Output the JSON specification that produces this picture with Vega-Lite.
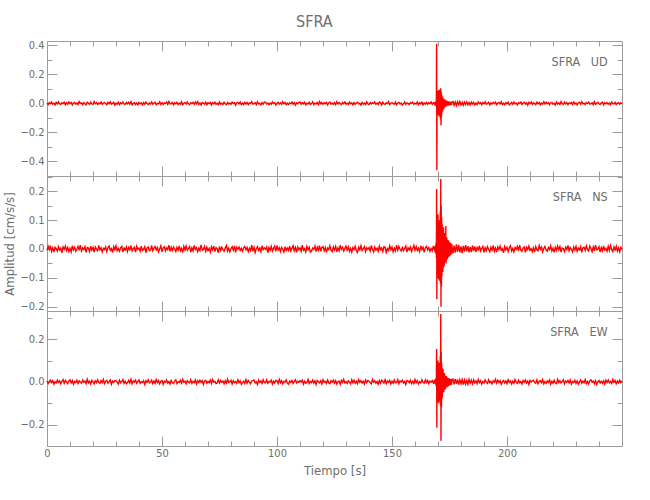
{
"$schema":"https://vega.github.io/schema/vega-lite/v6.json",
"padding":{"left":3,"top":14,"right":5,"bottom":5},
"title":{"text":"SFRA","fontSize":16,"fontWeight":"normal","font":"Liberation Sans Narrow, DejaVu Sans Condensed, Liberation Sans, sans-serif","color":"#6e6e6e","anchor":"middle","offset":9},
"data":{"values":[
{"t":0,"u":0.003,"n":-0.005,"e":0.004},{"t":0.5,"u":-0.008,"n":0.009,"e":-0.007},{"t":1,"u":0.006,"n":-0.002,"e":0.002},{"t":1.5,"u":-0.002,"n":0.012,"e":0.009},{"t":2,"u":0.009,"n":-0.008,"e":-0.003},{"t":2.5,"u":-0.005,"n":0.004,"e":0.006},{"t":3,"u":0.001,"n":-0.011,"e":-0.01},{"t":3.5,"u":-0.01,"n":0.006,"e":0.001},{"t":4,"u":0.007,"n":0.001,"e":-0.005},{"t":4.5,"u":-0.004,"n":-0.007,"e":0.008},
{"t":5,"u":0.011,"n":0.008,"e":-0.002},{"t":5.5,"u":-0.003,"n":-0.004,"e":0.005},{"t":6,"u":-0.007,"n":0.003,"e":-0.009},{"t":6.5,"u":0.005,"n":-0.013,"e":0.003},{"t":7,"u":-0.001,"n":0.007,"e":0.011},{"t":7.5,"u":0.008,"n":-0.001,"e":-0.006},{"t":8,"u":-0.009,"n":0.01,"e":0.007},{"t":8.5,"u":0.004,"n":-0.006,"e":-0.001},{"t":9,"u":-0.006,"n":0.005,"e":-0.008},{"t":9.5,"u":0.01,"n":-0.009,"e":0.004},
{"t":10,"u":-0.002,"n":0.002,"e":0.01},{"t":10.5,"u":0.006,"n":-0.01,"e":-0.004},{"t":11,"u":-0.011,"n":0.011,"e":0.006},{"t":11.5,"u":0.003,"n":-0.003,"e":-0.011},{"t":12,"u":0.007,"n":0.006,"e":0.002},{"t":12.5,"u":-0.005,"n":-0.008,"e":-0.003},{"t":13,"u":0.002,"n":-0.001,"e":0.008},{"t":13.5,"u":-0.008,"n":0.009,"e":-0.007},{"t":14,"u":0.012,"n":-0.005,"e":0.005},{"t":14.5,"u":-0.001,"n":0.013,"e":-0.001},
{"t":15,"u":0.004,"n":-0.007,"e":-0.006},{"t":15.5,"u":-0.009,"n":0.004,"e":0.009},{"t":16,"u":0.005,"n":-0.002,"e":-0.002},{"t":16.5,"u":-0.003,"n":0.008,"e":0.004},{"t":17,"u":-0.01,"n":-0.012,"e":-0.008},{"t":17.5,"u":0.008,"n":0.005,"e":0.012},{"t":18,"u":0.001,"n":0.003,"e":-0.005},{"t":18.5,"u":-0.006,"n":-0.009,"e":0.003},{"t":19,"u":0.009,"n":0.01,"e":-0.01},{"t":19.5,"u":-0.004,"n":-0.004,"e":0.007},
{"t":20,"u":-0.007,"n":0.006,"e":0.001},{"t":20.5,"u":0.013,"n":-0.011,"e":-0.009},{"t":21,"u":-0.002,"n":0.007,"e":0.005},{"t":21.5,"u":0.005,"n":-0.001,"e":-0.004},{"t":22,"u":-0.008,"n":-0.006,"e":0.01},{"t":22.5,"u":0.003,"n":0.012,"e":-0.002},{"t":23,"u":-0.004,"n":-0.003,"e":-0.007},{"t":23.5,"u":0.01,"n":0.004,"e":0.006},{"t":24,"u":-0.006,"n":-0.01,"e":-0.003},{"t":24.5,"u":0.002,"n":0.002,"e":0.011},
{"t":25,"u":0.006,"n":-0.002,"e":-0.008},{"t":25.5,"u":-0.001,"n":0.007,"e":0.003},{"t":26,"u":-0.009,"n":-0.009,"e":0.007},{"t":26.5,"u":0.007,"n":0.005,"e":-0.006},{"t":27,"u":-0.003,"n":0.01,"e":0.001},{"t":27.5,"u":0.011,"n":-0.005,"e":0.009},{"t":28,"u":-0.005,"n":0.001,"e":-0.011},{"t":28.5,"u":0,"n":-0.012,"e":0.004},{"t":29,"u":0.008,"n":0.008,"e":-0.002},{"t":29.5,"u":-0.012,"n":-0.003,"e":0.006},
{"t":30,"u":0.002,"n":0.011,"e":0.005},{"t":30.5,"u":-0.006,"n":-0.006,"e":-0.001},{"t":31,"u":0.009,"n":0.002,"e":-0.01},{"t":31.5,"u":-0.008,"n":-0.008,"e":0.008},{"t":32,"u":0.004,"n":0.004,"e":-0.004},{"t":32.5,"u":-0.002,"n":0.009,"e":0.002},{"t":33,"u":0.01,"n":-0.01,"e":0.011},{"t":33.5,"u":-0.004,"n":0.003,"e":-0.006},{"t":34,"u":-0.007,"n":-0.004,"e":0.003},{"t":34.5,"u":0.006,"n":0.007,"e":-0.009},
{"t":35,"u":-0.003,"n":-0.009,"e":-0.003},{"t":35.5,"u":0.008,"n":0.005,"e":0.007},{"t":36,"u":-0.005,"n":-0.003,"e":-0.005},{"t":36.5,"u":0.012,"n":0.012,"e":0.012},{"t":37,"u":-0.009,"n":-0.007,"e":-0.009},{"t":37.5,"u":0.001,"n":0.001,"e":0.004},{"t":38,"u":0.005,"n":0.006,"e":-0.001},{"t":38.5,"u":-0.007,"n":-0.011,"e":0.008},{"t":39,"u":0.003,"n":0.009,"e":-0.007},{"t":39.5,"u":-0.01,"n":-0.002,"e":0.002},
{"t":40,"u":0.007,"n":0.003,"e":0.009},{"t":40.5,"u":-0.002,"n":-0.008,"e":-0.006},{"t":41,"u":0.004,"n":0.01,"e":0.001},{"t":41.5,"u":-0.011,"n":-0.005,"e":-0.003},{"t":42,"u":0.006,"n":-0.001,"e":0.006},{"t":42.5,"u":-0.005,"n":0.008,"e":-0.012},{"t":43,"u":0.009,"n":-0.013,"e":0.005},{"t":43.5,"u":-0.001,"n":0.004,"e":-0.002},{"t":44,"u":-0.008,"n":0.007,"e":0.01},{"t":44.5,"u":0.003,"n":-0.006,"e":-0.005},
{"t":45,"u":-0.004,"n":-0.004,"e":-0.001},{"t":45.5,"u":0.01,"n":0.012,"e":0.008},{"t":46,"u":-0.006,"n":-0.006,"e":-0.008},{"t":46.5,"u":0.002,"n":0.002,"e":0.004},{"t":47,"u":0.008,"n":0.009,"e":-0.006},{"t":47.5,"u":-0.009,"n":-0.003,"e":0.011},{"t":48,"u":0.001,"n":0.005,"e":-0.003},{"t":48.5,"u":-0.003,"n":-0.01,"e":0.007},{"t":49,"u":0.011,"n":0.001,"e":-0.009},{"t":49.5,"u":-0.007,"n":0.011,"e":0.003},
{"t":50,"u":0.005,"n":-0.01,"e":0.006},{"t":50.5,"u":-0.008,"n":0.003,"e":-0.011},{"t":51,"u":0.003,"n":0.008,"e":0.003},{"t":51.5,"u":-0.001,"n":-0.007,"e":-0.002},{"t":52,"u":0.009,"n":0.004,"e":0.009},{"t":52.5,"u":-0.006,"n":-0.002,"e":-0.005},{"t":53,"u":0.013,"n":0.013,"e":0.002},{"t":53.5,"u":-0.004,"n":-0.008,"e":-0.01},{"t":54,"u":-0.002,"n":0.006,"e":0.007},{"t":54.5,"u":0.007,"n":-0.005,"e":-0.004},
{"t":55,"u":-0.009,"n":0.007,"e":-0.007},{"t":55.5,"u":0.004,"n":-0.001,"e":0.004},{"t":56,"u":-0.003,"n":-0.009,"e":0.01},{"t":56.5,"u":0.008,"n":0.006,"e":-0.008},{"t":57,"u":-0.007,"n":-0.004,"e":0.001},{"t":57.5,"u":0.002,"n":0.011,"e":-0.003},{"t":58,"u":-0.005,"n":-0.006,"e":0.008},{"t":58.5,"u":0.011,"n":0.002,"e":-0.006},{"t":59,"u":-0.01,"n":-0.012,"e":0.012},{"t":59.5,"u":0.001,"n":0.009,"e":-0.002},
{"t":60,"u":0.006,"n":-0.003,"e":0.003},{"t":60.5,"u":-0.004,"n":0.01,"e":-0.009},{"t":61,"u":0.009,"n":-0.005,"e":0.006},{"t":61.5,"u":-0.002,"n":0.001,"e":-0.001},{"t":62,"u":-0.008,"n":0.008,"e":-0.005},{"t":62.5,"u":0.005,"n":-0.011,"e":0.01},{"t":63,"u":-0.001,"n":0.004,"e":-0.007},{"t":63.5,"u":0.007,"n":-0.007,"e":0.002},{"t":64,"u":-0.006,"n":0.012,"e":-0.004},{"t":64.5,"u":0.01,"n":-0.001,"e":0.009},
{"t":65,"u":-0.003,"n":0.005,"e":-0.01},{"t":65.5,"u":0.012,"n":-0.009,"e":0.005},{"t":66,"u":-0.007,"n":0.003,"e":-0.003},{"t":66.5,"u":0.003,"n":-0.006,"e":0.008},{"t":67,"u":-0.011,"n":0.014,"e":-0.002},{"t":67.5,"u":0.006,"n":-0.004,"e":0.006},{"t":68,"u":0.002,"n":-0.002,"e":-0.012},{"t":68.5,"u":-0.005,"n":0.009,"e":0.004},{"t":69,"u":0.008,"n":-0.008,"e":0.007},{"t":69.5,"u":-0.009,"n":0.006,"e":-0.006},
{"t":70,"u":0.004,"n":-0.006,"e":0.002},{"t":70.5,"u":-0.001,"n":0.002,"e":-0.004},{"t":71,"u":0.007,"n":-0.011,"e":0.009},{"t":71.5,"u":-0.01,"n":0.007,"e":-0.007},{"t":72,"u":0.005,"n":-0.003,"e":0.011},{"t":72.5,"u":-0.003,"n":0.01,"e":-0.001},{"t":73,"u":0.009,"n":-0.009,"e":0.003},{"t":73.5,"u":-0.006,"n":0.005,"e":-0.008},{"t":74,"u":0.001,"n":0.001,"e":-0.005},{"t":74.5,"u":-0.008,"n":-0.013,"e":0.01},
{"t":75,"u":0.011,"n":0.009,"e":-0.005},{"t":75.5,"u":-0.005,"n":-0.005,"e":0.007},{"t":76,"u":0.002,"n":0.006,"e":-0.002},{"t":76.5,"u":-0.007,"n":-0.002,"e":0.004},{"t":77,"u":0.008,"n":-0.008,"e":-0.009},{"t":77.5,"u":-0.002,"n":0.004,"e":0.005},{"t":78,"u":-0.009,"n":0.012,"e":-0.006},{"t":78.5,"u":0.006,"n":-0.007,"e":0.012},{"t":79,"u":-0.004,"n":0.003,"e":-0.003},{"t":79.5,"u":0.003,"n":-0.01,"e":0.001},
{"t":80,"u":-0.006,"n":0.001,"e":0.008},{"t":80.5,"u":0.009,"n":0.008,"e":-0.01},{"t":81,"u":-0.001,"n":-0.004,"e":0.006},{"t":81.5,"u":0.005,"n":0.011,"e":-0.003},{"t":82,"u":-0.012,"n":-0.012,"e":0.002},{"t":82.5,"u":0.004,"n":0.006,"e":-0.007},{"t":83,"u":0.007,"n":-0.001,"e":0.01},{"t":83.5,"u":-0.003,"n":0.007,"e":-0.004},{"t":84,"u":0.01,"n":-0.005,"e":0.005},{"t":84.5,"u":-0.008,"n":0.002,"e":-0.011},
{"t":85,"u":0.002,"n":-0.008,"e":-0.002},{"t":85.5,"u":-0.007,"n":0.004,"e":0.003},{"t":86,"u":0.008,"n":0.009,"e":-0.008},{"t":86.5,"u":-0.004,"n":-0.003,"e":0.011},{"t":87,"u":0.006,"n":0.005,"e":-0.006},{"t":87.5,"u":-0.009,"n":-0.01,"e":0.007},{"t":88,"u":0.003,"n":0.002,"e":-0.001},{"t":88.5,"u":-0.001,"n":-0.006,"e":-0.009},{"t":89,"u":0.012,"n":0.013,"e":0.004},{"t":89.5,"u":-0.005,"n":-0.007,"e":0.006},
{"t":90,"u":-0.002,"n":0.006,"e":0.009},{"t":90.5,"u":0.006,"n":-0.012,"e":-0.005},{"t":91,"u":-0.008,"n":0.001,"e":0.001},{"t":91.5,"u":0.011,"n":0.008,"e":-0.012},{"t":92,"u":-0.003,"n":-0.005,"e":0.008},{"t":92.5,"u":0.001,"n":0.003,"e":-0.002},{"t":93,"u":-0.01,"n":-0.009,"e":0.005},{"t":93.5,"u":0.005,"n":0.011,"e":-0.007},{"t":94,"u":-0.006,"n":-0.002,"e":0.01},{"t":94.5,"u":0.009,"n":0.004,"e":-0.003},
{"t":95,"u":0.007,"n":-0.001,"e":-0.004},{"t":95.5,"u":-0.004,"n":0.007,"e":0.01},{"t":96,"u":0.003,"n":-0.013,"e":-0.006},{"t":96.5,"u":-0.009,"n":0.005,"e":0.002},{"t":97,"u":0.002,"n":-0.004,"e":-0.001},{"t":97.5,"u":-0.006,"n":0.009,"e":0.008},{"t":98,"u":0.01,"n":-0.007,"e":-0.01},{"t":98.5,"u":-0.002,"n":0.002,"e":0.003},{"t":99,"u":0.005,"n":0.01,"e":-0.005},{"t":99.5,"u":-0.011,"n":-0.008,"e":0.007},
{"t":100,"u":0.001,"n":0.012,"e":0.005},{"t":100.5,"u":0.008,"n":-0.003,"e":-0.008},{"t":101,"u":-0.005,"n":0.004,"e":0.012},{"t":101.5,"u":0.004,"n":-0.009,"e":-0.004},{"t":102,"u":-0.007,"n":0.006,"e":0.006},{"t":102.5,"u":0.012,"n":-0.001,"e":-0.009},{"t":103,"u":-0.003,"n":-0.011,"e":0.002},{"t":103.5,"u":0.006,"n":0.008,"e":-0.001},{"t":104,"u":-0.009,"n":-0.005,"e":0.009},{"t":104.5,"u":0.002,"n":0.003,"e":-0.006},
{"t":105,"u":-0.008,"n":-0.005,"e":-0.011},{"t":105.5,"u":0.003,"n":0.01,"e":0.004},{"t":106,"u":-0.001,"n":-0.007,"e":-0.003},{"t":106.5,"u":0.009,"n":0.002,"e":0.007},{"t":107,"u":-0.005,"n":0.011,"e":-0.007},{"t":107.5,"u":0.007,"n":-0.006,"e":0.001},{"t":108,"u":-0.012,"n":0.005,"e":0.01},{"t":108.5,"u":0.004,"n":-0.012,"e":-0.005},{"t":109,"u":-0.002,"n":0.007,"e":0.003},{"t":109.5,"u":0.006,"n":-0.002,"e":-0.002},
{"t":110,"u":0.01,"n":0.004,"e":0.006},{"t":110.5,"u":-0.006,"n":-0.008,"e":-0.001},{"t":111,"u":0.005,"n":0.013,"e":0.008},{"t":111.5,"u":-0.003,"n":-0.004,"e":-0.01},{"t":112,"u":0.008,"n":0.001,"e":0.004},{"t":112.5,"u":-0.01,"n":-0.01,"e":-0.006},{"t":113,"u":0.001,"n":0.009,"e":-0.003},{"t":113.5,"u":-0.004,"n":-0.003,"e":0.011},{"t":114,"u":0.007,"n":0.006,"e":-0.008},{"t":114.5,"u":-0.007,"n":-0.011,"e":0.002},
{"t":115,"u":-0.001,"n":-0.007,"e":-0.003},{"t":115.5,"u":0.011,"n":0.003,"e":0.009},{"t":116,"u":-0.008,"n":-0.001,"e":-0.005},{"t":116.5,"u":0.002,"n":0.01,"e":0.005},{"t":117,"u":-0.004,"n":-0.009,"e":-0.012},{"t":117.5,"u":0.006,"n":0.006,"e":0.007},{"t":118,"u":-0.009,"n":-0.004,"e":0.001},{"t":118.5,"u":0.013,"n":0.012,"e":-0.004},{"t":119,"u":-0.003,"n":-0.008,"e":0.006},{"t":119.5,"u":0.005,"n":0.005,"e":-0.009},
{"t":120,"u":-0.006,"n":0.008,"e":0.01},{"t":120.5,"u":0.004,"n":-0.006,"e":-0.002},{"t":121,"u":-0.002,"n":0.005,"e":0.003},{"t":121.5,"u":0.008,"n":-0.012,"e":-0.007},{"t":122,"u":-0.011,"n":0.003,"e":0.009},{"t":122.5,"u":0.003,"n":-0.002,"e":-0.004},{"t":123,"u":0.009,"n":0.011,"e":-0.008},{"t":123.5,"u":-0.005,"n":-0.005,"e":0.005},{"t":124,"u":0.001,"n":-0.009,"e":-0.001},{"t":124.5,"u":-0.007,"n":0.007,"e":0.008},
{"t":125,"u":0.005,"n":-0.003,"e":-0.006},{"t":125.5,"u":-0.009,"n":0.009,"e":0.006},{"t":126,"u":0.012,"n":-0.01,"e":-0.01},{"t":126.5,"u":-0.004,"n":0.004,"e":0.002},{"t":127,"u":0.006,"n":-0.006,"e":0.004},{"t":127.5,"u":-0.001,"n":0.013,"e":-0.011},{"t":128,"u":-0.008,"n":-0.001,"e":0.007},{"t":128.5,"u":0.007,"n":0.006,"e":-0.003},{"t":129,"u":-0.003,"n":-0.007,"e":0.012},{"t":129.5,"u":0.01,"n":0.002,"e":-0.005},
{"t":130,"u":-0.005,"n":0.01,"e":0.001},{"t":130.5,"u":0.002,"n":-0.004,"e":-0.007},{"t":131,"u":-0.007,"n":0.007,"e":0.005},{"t":131.5,"u":0.009,"n":-0.008,"e":-0.001},{"t":132,"u":-0.002,"n":0.002,"e":-0.009},{"t":132.5,"u":0.004,"n":-0.011,"e":0.01},{"t":133,"u":-0.01,"n":0.005,"e":-0.004},{"t":133.5,"u":0.006,"n":-0.002,"e":0.008},{"t":134,"u":-0.006,"n":0.009,"e":-0.006},{"t":134.5,"u":0.003,"n":-0.006,"e":0.003},
{"t":135,"u":0.008,"n":-0.012,"e":-0.008},{"t":135.5,"u":-0.003,"n":0.006,"e":0.011},{"t":136,"u":0.001,"n":-0.003,"e":-0.002},{"t":136.5,"u":-0.011,"n":0.011,"e":0.006},{"t":137,"u":0.007,"n":-0.005,"e":-0.005},{"t":137.5,"u":-0.005,"n":0.001,"e":0.003},{"t":138,"u":0.003,"n":0.008,"e":-0.01},{"t":138.5,"u":-0.008,"n":-0.009,"e":0.009},{"t":139,"u":0.011,"n":0.004,"e":-0.003},{"t":139.5,"u":-0.002,"n":-0.001,"e":0.007},
{"t":140,"u":-0.009,"n":0.005,"e":0.004},{"t":140.5,"u":0.006,"n":-0.007,"e":-0.003},{"t":141,"u":-0.004,"n":0.012,"e":-0.009},{"t":141.5,"u":0.005,"n":-0.002,"e":0.012},{"t":142,"u":-0.001,"n":-0.01,"e":-0.001},{"t":142.5,"u":0.01,"n":0.007,"e":0.005},{"t":143,"u":-0.006,"n":-0.004,"e":-0.006},{"t":143.5,"u":0.002,"n":0.003,"e":0.002},{"t":144,"u":-0.007,"n":-0.008,"e":-0.011},{"t":144.5,"u":0.009,"n":0.01,"e":0.006},
{"t":145,"u":0.004,"n":-0.002,"e":-0.007},{"t":145.5,"u":-0.01,"n":0.004,"e":0.008},{"t":146,"u":0.008,"n":-0.009,"e":0.002},{"t":146.5,"u":-0.003,"n":0.008,"e":-0.005},{"t":147,"u":-0.006,"n":0.006,"e":0.01},{"t":147.5,"u":0.005,"n":-0.012,"e":-0.008},{"t":148,"u":-0.002,"n":0.001,"e":0.004},{"t":148.5,"u":0.012,"n":-0.005,"e":-0.002},{"t":149,"u":-0.008,"n":0.011,"e":0.007},{"t":149.5,"u":0.001,"n":-0.003,"e":-0.01},
{"t":150,"u":0.006,"n":0.007,"e":0.003},{"t":150.5,"u":-0.002,"n":-0.01,"e":-0.006},{"t":151,"u":-0.005,"n":0.003,"e":0.009},{"t":151.5,"u":0.009,"n":-0.006,"e":-0.004},{"t":152,"u":-0.009,"n":0.013,"e":-0.002},{"t":152.5,"u":0.003,"n":-0.004,"e":0.011},{"t":153,"u":0.007,"n":0.009,"e":-0.009},{"t":153.5,"u":-0.004,"n":-0.001,"e":0.005},{"t":154,"u":0.002,"n":-0.007,"e":-0.001},{"t":154.5,"u":-0.011,"n":0.005,"e":0.008},
{"t":155,"u":-0.003,"n":-0.006,"e":-0.005},{"t":155.5,"u":0.01,"n":0.002,"e":0.002},{"t":156,"u":-0.007,"n":0.01,"e":-0.012},{"t":156.5,"u":0.004,"n":-0.011,"e":0.007},{"t":157,"u":0.001,"n":0.004,"e":0.004},{"t":157.5,"u":-0.008,"n":-0.003,"e":-0.003},{"t":158,"u":0.006,"n":0.007,"e":0.008},{"t":158.5,"u":-0.001,"n":-0.008,"e":-0.007},{"t":159,"u":0.009,"n":0.001,"e":0.003},{"t":159.5,"u":-0.006,"n":0.012,"e":-0.008},
{"t":160,"u":0.002,"n":-0.004,"e":0.011},{"t":160.5,"u":-0.004,"n":0.008,"e":-0.004},{"t":161,"u":0.011,"n":-0.005,"e":0.006},{"t":161.5,"u":-0.009,"n":0.003,"e":-0.009},{"t":162,"u":0.005,"n":-0.009,"e":0.001},{"t":162.5,"u":-0.003,"n":0.011,"e":-0.005},{"t":163,"u":0.008,"n":-0.002,"e":0.01},{"t":163.5,"u":-0.01,"n":0.006,"e":-0.002},{"t":164,"u":0.003,"n":-0.012,"e":-0.006},{"t":164.5,"u":-0.005,"n":0.004,"e":0.009},
{"t":165,"u":0.007,"n":0.009,"e":-0.003},{"t":165.5,"u":-0.006,"n":-0.003,"e":0.007},{"t":166,"u":0.004,"n":0.005,"e":-0.008},{"t":166.5,"u":-0.002,"n":-0.008,"e":0.004},{"t":167,"u":0.01,"n":0.002,"e":-0.001},{"t":167.5,"u":-0.007,"n":-0.006,"e":0.006},{"t":168,"u":0.005,"n":0.011,"e":-0.005},{"t":168.5,"u":-0.003,"n":-0.004,"e":0.009},
{"t":168.6,"u":-0.006,"n":0.008,"e":-0.007},{"t":168.7,"u":0.009,"n":-0.012,"e":0.01},{"t":168.8,"u":-0.011,"n":0.01,"e":-0.009},{"t":168.9,"u":0.007,"n":-0.009,"e":0.012},{"t":169,"u":-0.008,"n":0.014,"e":-0.011},{"t":169.1,"u":0.014,"n":-0.016,"e":0.015},{"t":169.2,"u":-0.018,"n":0.022,"e":-0.02},{"t":169.3,"u":0.025,"n":-0.03,"e":0.028},{"t":169.4,"u":0.41,"n":0.208,"e":0.154},{"t":169.5,"u":-0.46,"n":-0.174,"e":-0.214},
{"t":169.6,"u":0.07,"n":0.095,"e":0.08},{"t":169.7,"u":-0.055,"n":-0.08,"e":-0.095},{"t":169.8,"u":0.085,"n":0.11,"e":0.07},{"t":169.9,"u":-0.07,"n":-0.1,"e":-0.06},{"t":170,"u":0.06,"n":0.12,"e":0.1},{"t":170.1,"u":-0.08,"n":-0.09,"e":-0.085},{"t":170.2,"u":0.09,"n":0.085,"e":0.06},{"t":170.3,"u":-0.065,"n":-0.105,"e":-0.1},{"t":170.4,"u":0.075,"n":0.1,"e":0.09},{"t":170.5,"u":-0.09,"n":-0.08,"e":-0.07},
{"t":170.6,"u":0.055,"n":0.09,"e":0.085},{"t":170.7,"u":-0.07,"n":-0.11,"e":-0.09},{"t":170.8,"u":0.095,"n":0.075,"e":0.065},{"t":170.9,"u":-0.085,"n":-0.095,"e":-0.075},{"t":171,"u":0.07,"n":0.13,"e":0.12},{"t":171.1,"u":-0.11,"n":-0.12,"e":-0.11},{"t":171.2,"u":0.105,"n":0.243,"e":0.318},{"t":171.3,"u":-0.15,"n":-0.2,"e":-0.276},{"t":171.4,"u":0.08,"n":0.15,"e":0.14},{"t":171.5,"u":-0.095,"n":-0.13,"e":-0.12},
{"t":171.6,"u":0.06,"n":0.11,"e":0.09},{"t":171.7,"u":-0.07,"n":-0.095,"e":-0.08},{"t":171.8,"u":0.05,"n":0.085,"e":0.065},{"t":171.9,"u":-0.055,"n":-0.075,"e":-0.07},{"t":172,"u":0.042,"n":0.07,"e":0.055},{"t":172.1,"u":-0.048,"n":-0.08,"e":-0.05},{"t":172.2,"u":0.038,"n":0.06,"e":0.06},{"t":172.3,"u":-0.035,"n":-0.065,"e":-0.045},{"t":172.4,"u":0.032,"n":0.075,"e":0.04},{"t":172.5,"u":-0.04,"n":-0.055,"e":-0.048},
{"t":172.6,"u":0.028,"n":0.05,"e":0.035},{"t":172.7,"u":-0.03,"n":-0.06,"e":-0.038},{"t":172.8,"u":0.025,"n":0.045,"e":0.042},{"t":172.9,"u":-0.022,"n":-0.04,"e":-0.03},{"t":173,"u":0.027,"n":0.055,"e":0.033},{"t":173.1,"u":-0.024,"n":-0.045,"e":-0.035},{"t":173.2,"u":0.02,"n":0.038,"e":0.028},{"t":173.3,"u":-0.018,"n":-0.042,"e":-0.03},{"t":173.4,"u":0.022,"n":0.08,"e":0.026},{"t":173.5,"u":-0.02,"n":-0.05,"e":-0.024},
{"t":173.6,"u":0.016,"n":0.035,"e":0.028},{"t":173.7,"u":-0.019,"n":-0.038,"e":-0.022},{"t":173.8,"u":0.018,"n":0.04,"e":0.02},{"t":173.9,"u":-0.014,"n":-0.03,"e":-0.025},{"t":174,"u":0.017,"n":0.032,"e":0.022},{"t":174.1,"u":-0.015,"n":-0.035,"e":-0.018},{"t":174.2,"u":0.013,"n":0.028,"e":0.02},{"t":174.3,"u":-0.016,"n":-0.03,"e":-0.021},{"t":174.4,"u":0.014,"n":0.025,"e":0.017},{"t":174.5,"u":-0.012,"n":-0.027,"e":-0.019},
{"t":174.6,"u":0.015,"n":0.03,"e":0.016},{"t":174.7,"u":-0.013,"n":-0.022,"e":-0.018},{"t":174.8,"u":0.011,"n":0.024,"e":0.015},{"t":174.9,"u":-0.014,"n":-0.026,"e":-0.014},{"t":175,"u":0.012,"n":0.02,"e":0.017},{"t":175.1,"u":-0.01,"n":-0.024,"e":-0.013},{"t":175.2,"u":0.013,"n":0.022,"e":0.014},{"t":175.3,"u":-0.011,"n":-0.018,"e":-0.015},{"t":175.4,"u":0.009,"n":0.021,"e":0.012},{"t":175.5,"u":-0.012,"n":-0.02,"e":-0.014},
{"t":175.6,"u":0.01,"n":0.017,"e":0.013},{"t":175.7,"u":-0.009,"n":-0.019,"e":-0.011},{"t":175.8,"u":0.012,"n":0.018,"e":0.012},{"t":175.9,"u":-0.01,"n":-0.015,"e":-0.013},{"t":176,"u":0.008,"n":0.016,"e":0.01},
{"t":176.5,"u":0.014,"n":-0.015,"e":0.013},{"t":177,"u":-0.012,"n":0.012,"e":-0.011},{"t":177.5,"u":0.01,"n":-0.013,"e":0.014},{"t":178,"u":-0.015,"n":0.016,"e":-0.009},{"t":178.5,"u":0.012,"n":-0.01,"e":0.012},{"t":179,"u":-0.009,"n":0.014,"e":-0.013},{"t":179.5,"u":0.013,"n":-0.012,"e":0.01},{"t":180,"u":-0.011,"n":0.009,"e":-0.008},{"t":180.5,"u":0.008,"n":-0.014,"e":0.011},{"t":181,"u":-0.012,"n":0.011,"e":-0.012},
{"t":181.5,"u":0.01,"n":-0.009,"e":0.009},{"t":182,"u":-0.007,"n":0.013,"e":-0.01},{"t":182.5,"u":0.011,"n":-0.008,"e":0.007},{"t":183,"u":-0.009,"n":0.01,"e":-0.011},{"t":183.5,"u":0.006,"n":-0.012,"e":0.012},{"t":184,"u":-0.01,"n":0.007,"e":-0.006},{"t":184.5,"u":0.009,"n":-0.011,"e":0.008},{"t":185,"u":-0.004,"n":0.012,"e":-0.009},{"t":185.5,"u":0.007,"n":-0.006,"e":0.01},{"t":186,"u":-0.011,"n":0.009,"e":-0.005},
{"t":186.5,"u":0.003,"n":-0.01,"e":0.004},{"t":187,"u":-0.008,"n":0.005,"e":-0.008},{"t":187.5,"u":0.01,"n":-0.003,"e":0.011},{"t":188,"u":-0.002,"n":0.011,"e":-0.003},{"t":188.5,"u":0.005,"n":-0.007,"e":0.006},{"t":189,"u":-0.009,"n":0.002,"e":-0.01},{"t":189.5,"u":0.006,"n":0.009,"e":0.002},{"t":190,"u":-0.003,"n":-0.012,"e":-0.005},{"t":190.5,"u":0.011,"n":0.004,"e":0.009},{"t":191,"u":-0.006,"n":-0.006,"e":-0.001},
{"t":191.5,"u":-0.001,"n":0.008,"e":-0.007},{"t":192,"u":0.008,"n":-0.001,"e":0.01},{"t":192.5,"u":-0.01,"n":-0.009,"e":-0.004},{"t":193,"u":0.004,"n":0.006,"e":0.003},{"t":193.5,"u":-0.005,"n":-0.004,"e":-0.009},{"t":194,"u":0.007,"n":0.012,"e":0.005},{"t":194.5,"u":-0.002,"n":-0.008,"e":-0.002},{"t":195,"u":0.009,"n":0.003,"e":0.012},{"t":195.5,"u":-0.008,"n":-0.011,"e":-0.006},{"t":196,"u":0.002,"n":0.007,"e":0.008},
{"t":196.5,"u":0.006,"n":-0.002,"e":-0.003},{"t":197,"u":-0.004,"n":0.01,"e":0.006},{"t":197.5,"u":0.012,"n":-0.005,"e":-0.011},{"t":198,"u":-0.007,"n":0.001,"e":0.001},{"t":198.5,"u":0.001,"n":-0.013,"e":0.007},{"t":199,"u":-0.009,"n":0.008,"e":-0.005},{"t":199.5,"u":0.005,"n":-0.003,"e":0.004},{"t":200,"u":-0.003,"n":0.006,"e":-0.008},{"t":200.5,"u":0.008,"n":-0.009,"e":0.01},{"t":201,"u":-0.01,"n":0.004,"e":-0.002},
{"t":201.5,"u":-0.002,"n":0.011,"e":0.005},{"t":202,"u":0.007,"n":-0.007,"e":-0.009},{"t":202.5,"u":-0.006,"n":0.002,"e":0.003},{"t":203,"u":0.01,"n":-0.01,"e":-0.006},{"t":203.5,"u":-0.004,"n":0.005,"e":0.011},{"t":204,"u":0.003,"n":-0.001,"e":-0.001},{"t":204.5,"u":-0.011,"n":0.009,"e":-0.007},{"t":205,"u":0.006,"n":-0.006,"e":0.008},{"t":205.5,"u":-0.001,"n":0.013,"e":-0.004},{"t":206,"u":0.009,"n":-0.004,"e":0.002},
{"t":206.5,"u":-0.007,"n":-0.008,"e":-0.01},{"t":207,"u":0.002,"n":0.003,"e":0.006},{"t":207.5,"u":0.008,"n":0.007,"e":-0.002},{"t":208,"u":-0.005,"n":-0.012,"e":0.009},{"t":208.5,"u":0.004,"n":0.006,"e":-0.005},{"t":209,"u":-0.012,"n":-0.002,"e":0.004},{"t":209.5,"u":0.007,"n":0.01,"e":-0.012},{"t":210,"u":-0.003,"n":-0.005,"e":0.007},{"t":210.5,"u":0.01,"n":0.001,"e":-0.001},{"t":211,"u":-0.006,"n":-0.009,"e":0.005},
{"t":211.5,"u":0.005,"n":0.004,"e":0.008},{"t":212,"u":-0.001,"n":-0.011,"e":-0.003},{"t":212.5,"u":-0.008,"n":0.008,"e":-0.006},{"t":213,"u":0.009,"n":-0.003,"e":0.01},{"t":213.5,"u":-0.003,"n":-0.006,"e":-0.008},{"t":214,"u":0.006,"n":0.012,"e":0.002},{"t":214.5,"u":-0.01,"n":-0.001,"e":0.006},{"t":215,"u":0.002,"n":0.007,"e":-0.004},{"t":215.5,"u":-0.005,"n":-0.01,"e":0.011},{"t":216,"u":0.011,"n":0.002,"e":-0.009},
{"t":216.5,"u":-0.004,"n":0.009,"e":0.001},{"t":217,"u":0.008,"n":-0.004,"e":-0.007},{"t":217.5,"u":-0.002,"n":-0.008,"e":0.005},{"t":218,"u":0.005,"n":0.005,"e":-0.002},{"t":218.5,"u":-0.009,"n":-0.002,"e":0.009},{"t":219,"u":0.003,"n":0.011,"e":-0.011},{"t":219.5,"u":0.007,"n":-0.007,"e":0.003},{"t":220,"u":-0.006,"n":0.003,"e":-0.006},{"t":220.5,"u":0.001,"n":-0.012,"e":0.008},{"t":221,"u":-0.011,"n":0.006,"e":-0.004},
{"t":221.5,"u":0.01,"n":-0.005,"e":-0.008},{"t":222,"u":-0.005,"n":0.01,"e":0.012},{"t":222.5,"u":0.004,"n":-0.003,"e":-0.003},{"t":223,"u":-0.008,"n":0.008,"e":0.006},{"t":223.5,"u":0.012,"n":-0.011,"e":-0.005},{"t":224,"u":-0.002,"n":0.004,"e":0.001},{"t":224.5,"u":-0.006,"n":0.001,"e":0.01},{"t":225,"u":0.009,"n":-0.009,"e":-0.009},{"t":225.5,"u":-0.003,"n":0.006,"e":0.004},{"t":226,"u":0.006,"n":-0.002,"e":-0.002},
{"t":226.5,"u":-0.009,"n":0.012,"e":0.007},{"t":227,"u":0.003,"n":-0.006,"e":-0.005},{"t":227.5,"u":-0.001,"n":0.005,"e":0.009},{"t":228,"u":0.007,"n":-0.001,"e":-0.01},{"t":228.5,"u":-0.007,"n":-0.01,"e":0.002},{"t":229,"u":0.01,"n":0.007,"e":-0.003},{"t":229.5,"u":-0.004,"n":-0.004,"e":0.008},{"t":230,"u":0.002,"n":0.009,"e":-0.007},{"t":230.5,"u":-0.01,"n":-0.008,"e":0.005},{"t":231,"u":0.005,"n":0.003,"e":-0.011},
{"t":231.5,"u":0.008,"n":-0.003,"e":-0.001},{"t":232,"u":-0.006,"n":0.008,"e":0.009},{"t":232.5,"u":0.011,"n":-0.012,"e":-0.006},{"t":233,"u":-0.003,"n":0.004,"e":0.003},{"t":233.5,"u":0.002,"n":0.006,"e":-0.004},{"t":234,"u":-0.008,"n":-0.005,"e":0.011},{"t":234.5,"u":0.006,"n":0.011,"e":-0.008},{"t":235,"u":-0.001,"n":-0.002,"e":0.002},{"t":235.5,"u":0.009,"n":-0.007,"e":-0.009},{"t":236,"u":-0.005,"n":0.01,"e":0.006},
{"t":236.5,"u":-0.002,"n":0.002,"e":0.01},{"t":237,"u":0.004,"n":-0.009,"e":-0.002},{"t":237.5,"u":-0.009,"n":0.007,"e":0.004},{"t":238,"u":0.012,"n":-0.006,"e":-0.008},{"t":238.5,"u":-0.006,"n":0.013,"e":0.006},{"t":239,"u":0.001,"n":-0.003,"e":-0.012},{"t":239.5,"u":0.008,"n":-0.001,"e":0.001},{"t":240,"u":-0.004,"n":0.008,"e":0.007},{"t":240.5,"u":-0.007,"n":-0.011,"e":-0.005},{"t":241,"u":0.003,"n":0.005,"e":0.003},
{"t":241.5,"u":0.009,"n":-0.006,"e":-0.006},{"t":242,"u":-0.01,"n":0.011,"e":0.005},{"t":242.5,"u":0.005,"n":-0.004,"e":-0.01},{"t":243,"u":-0.002,"n":0.002,"e":0.008},{"t":243.5,"u":0.006,"n":-0.008,"e":-0.003},{"t":244,"u":-0.005,"n":0.009,"e":0.009},{"t":244.5,"u":0.003,"n":-0.005,"e":-0.004},{"t":245,"u":-0.009,"n":0.012,"e":0.002},{"t":245.5,"u":0.01,"n":-0.002,"e":-0.007},{"t":246,"u":-0.001,"n":-0.009,"e":0.012},
{"t":246.5,"u":-0.004,"n":0.007,"e":-0.002},{"t":247,"u":0.007,"n":-0.003,"e":0.006},{"t":247.5,"u":-0.008,"n":0.01,"e":-0.009},{"t":248,"u":0.002,"n":-0.007,"e":0.004},{"t":248.5,"u":0.006,"n":0.004,"e":-0.005},{"t":249,"u":-0.006,"n":-0.01,"e":0.008},{"t":249.5,"u":0.004,"n":0.006,"e":-0.003},{"t":250,"u":-0.003,"n":-0.001,"e":0.005}
]},
"spacing":0,
"bounds":"flush",
"vconcat":[
{"width":575,"height":135,
 "layer":[
  {"mark":{"type":"line","color":"#ff0000","strokeWidth":1.4},
   "encoding":{
    "x":{"field":"t","type":"quantitative","scale":{"domain":[0,250],"nice":false,"zero":false},
     "axis":{"orient":"bottom","values":[0,10,20,30,40,50,60,70,80,90,100,110,120,130,140,150,160,170,180,190,200,210,220,230,240],"labels":false,"title":null,"tickSize":{"condition":{"test":"datum.value % 50 === 0","value":-10},"value":-5}}},
    "y":{"field":"u","type":"quantitative","scale":{"domain":[-0.5,0.43],"nice":false,"zero":false},
     "axis":{"orient":"left","values":[-0.5,-0.4,-0.3,-0.2,-0.1,0,0.1,0.2,0.3,0.4],"title":null,"labelPadding":13,"labelExpr":"abs(round(datum.value*10)) % 2 === 0 ? format(datum.value, '.1f') : ''","tickSize":{"condition":{"test":"abs(round(datum.value*10)) % 2 === 0","value":-10},"value":-5}}}}},
  {"mark":{"type":"line","opacity":0},
   "encoding":{
    "x":{"field":"t","type":"quantitative",
     "axis":{"orient":"top","values":[0,10,20,30,40,50,60,70,80,90,100,110,120,130,140,150,160,170,180,190,200,210,220,230,240],"labels":false,"title":null,"tickSize":{"condition":{"test":"datum.value % 50 === 0","value":-10},"value":-5}}},
    "y":{"field":"u","type":"quantitative",
     "axis":{"orient":"right","values":[-0.5,-0.4,-0.3,-0.2,-0.1,0,0.1,0.2,0.3,0.4],"labels":false,"title":null,"tickSize":{"condition":{"test":"abs(round(datum.value*10)) % 2 === 0","value":-10},"value":-5}}}}},
  {"data":{"values":[{"label":"SFRA\u00a0\u00a0\u00a0UD"}]},
   "mark":{"type":"text","align":"right","baseline":"middle","fontSize":12.5,"font":"Liberation Sans Narrow, DejaVu Sans Condensed, Liberation Sans, sans-serif","color":"#6e6e6e"},
   "encoding":{"x":{"datum":243.8,"type":"quantitative","axis":null},"y":{"datum":0.285,"type":"quantitative","axis":null},"text":{"field":"label"}}}
 ],
 "resolve":{"axis":{"x":"independent","y":"independent"}}
},
{"width":575,"height":135,
 "layer":[
  {"mark":{"type":"line","color":"#ff0000","strokeWidth":1.4},
   "encoding":{
    "x":{"field":"t","type":"quantitative","scale":{"domain":[0,250],"nice":false,"zero":false},
     "axis":{"orient":"bottom","values":[0,10,20,30,40,50,60,70,80,90,100,110,120,130,140,150,160,170,180,190,200,210,220,230,240],"labels":false,"title":null,"tickSize":{"condition":{"test":"datum.value % 50 === 0","value":-10},"value":-5}}},
    "y":{"field":"n","type":"quantitative","scale":{"domain":[-0.215,0.253],"nice":false,"zero":false},
     "axis":{"orient":"left","values":[-0.2,-0.15,-0.1,-0.05,0,0.05,0.1,0.15,0.2,0.25],"title":"Amplitud [cm/s/s]","titlePadding":3,"labelPadding":13,"labelExpr":"abs(round(datum.value*20)) % 2 === 0 ? format(datum.value, '.1f') : ''","tickSize":{"condition":{"test":"abs(round(datum.value*20)) % 2 === 0","value":-10},"value":-5}}}}},
  {"mark":{"type":"line","opacity":0},
   "encoding":{
    "x":{"field":"t","type":"quantitative",
     "axis":{"orient":"top","values":[0,10,20,30,40,50,60,70,80,90,100,110,120,130,140,150,160,170,180,190,200,210,220,230,240],"labels":false,"title":null,"tickSize":{"condition":{"test":"datum.value % 50 === 0","value":-10},"value":-5}}},
    "y":{"field":"n","type":"quantitative",
     "axis":{"orient":"right","values":[-0.2,-0.15,-0.1,-0.05,0,0.05,0.1,0.15,0.2,0.25],"labels":false,"title":null,"tickSize":{"condition":{"test":"abs(round(datum.value*20)) % 2 === 0","value":-10},"value":-5}}}}},
  {"data":{"values":[{"label":"SFRA\u00a0\u00a0\u00a0NS"}]},
   "mark":{"type":"text","align":"right","baseline":"middle","fontSize":12.5,"font":"Liberation Sans Narrow, DejaVu Sans Condensed, Liberation Sans, sans-serif","color":"#6e6e6e"},
   "encoding":{"x":{"datum":243.8,"type":"quantitative","axis":null},"y":{"datum":0.181,"type":"quantitative","axis":null},"text":{"field":"label"}}}
 ],
 "resolve":{"axis":{"x":"independent","y":"independent"}}
},
{"width":575,"height":135,
 "layer":[
  {"mark":{"type":"line","color":"#ff0000","strokeWidth":1.4},
   "encoding":{
    "x":{"field":"t","type":"quantitative","scale":{"domain":[0,250],"nice":false,"zero":false},
     "axis":{"orient":"bottom","values":[0,10,20,30,40,50,60,70,80,90,100,110,120,130,140,150,160,170,180,190,200,210,220,230,240],"title":"Tiempo [s]","titlePadding":1,"labelPadding":11,"labelExpr":"datum.value % 50 === 0 ? datum.label : ''","tickSize":{"condition":{"test":"datum.value % 50 === 0","value":-10},"value":-5}}},
    "y":{"field":"e","type":"quantitative","scale":{"domain":[-0.3,0.332],"nice":false,"zero":false},
     "axis":{"orient":"left","values":[-0.2,-0.1,0,0.1,0.2,0.3],"title":null,"labelPadding":13,"labelExpr":"abs(round(datum.value*10)) % 2 === 0 ? format(datum.value, '.1f') : ''","tickSize":{"condition":{"test":"abs(round(datum.value*10)) % 2 === 0","value":-10},"value":-5}}}}},
  {"mark":{"type":"line","opacity":0},
   "encoding":{
    "x":{"field":"t","type":"quantitative",
     "axis":{"orient":"top","values":[0,10,20,30,40,50,60,70,80,90,100,110,120,130,140,150,160,170,180,190,200,210,220,230,240],"labels":false,"title":null,"tickSize":{"condition":{"test":"datum.value % 50 === 0","value":-10},"value":-5}}},
    "y":{"field":"e","type":"quantitative",
     "axis":{"orient":"right","values":[-0.2,-0.1,0,0.1,0.2,0.3],"labels":false,"title":null,"tickSize":{"condition":{"test":"abs(round(datum.value*10)) % 2 === 0","value":-10},"value":-5}}}}},
  {"data":{"values":[{"label":"SFRA\u00a0\u00a0\u00a0EW"}]},
   "mark":{"type":"text","align":"right","baseline":"middle","fontSize":12.5,"font":"Liberation Sans Narrow, DejaVu Sans Condensed, Liberation Sans, sans-serif","color":"#6e6e6e"},
   "encoding":{"x":{"datum":243.8,"type":"quantitative","axis":null},"y":{"datum":0.232,"type":"quantitative","axis":null},"text":{"field":"label"}}}
 ],
 "resolve":{"axis":{"x":"independent","y":"independent"}}
}
],
"config":{
 "view":{"stroke":null},
 "axis":{"domainColor":"#9c9c9c","tickColor":"#9c9c9c","domainWidth":1,"tickWidth":1,"labelColor":"#6e6e6e","titleColor":"#6e6e6e","labelFont":"Liberation Sans Narrow, DejaVu Sans Condensed, Liberation Sans, sans-serif","titleFont":"Liberation Sans Narrow, DejaVu Sans Condensed, Liberation Sans, sans-serif","labelFontSize":11,"titleFontSize":13,"titleFontWeight":"normal","grid":false,"labelFlush":false,"labelOverlap":false,"labelBound":false}
}
}
